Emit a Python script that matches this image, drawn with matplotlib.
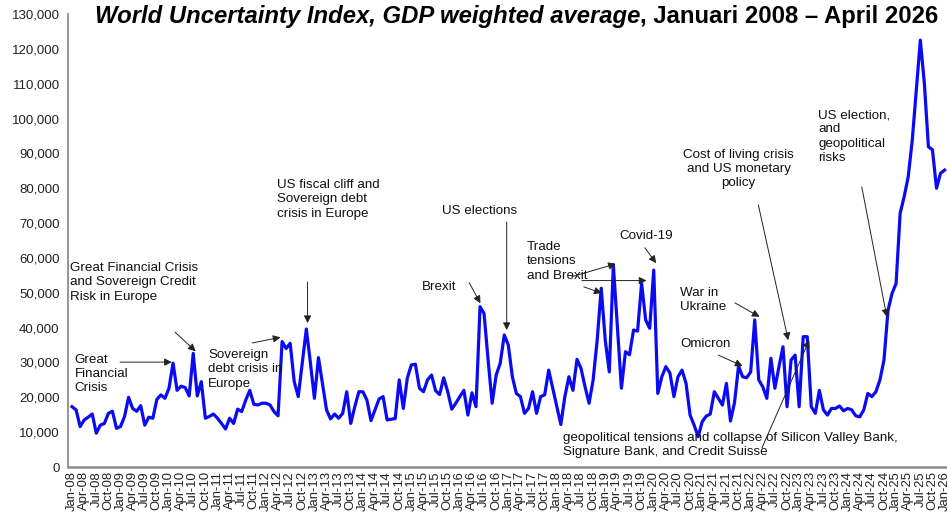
import numpy as np
import pandas as pd
import matplotlib
matplotlib.use("Agg")
import matplotlib.pyplot as plt
import matplotlib.ticker as mticker

# --- global style ---
plt.rcParams['font.family'] = ['Liberation Sans', 'DejaVu Sans']
plt.rcParams['axes.unicode_minus'] = False

LINE_COLOR = '#0b0bf2'
ANNOT_SIZE = 9.6
ARROW = dict(arrowstyle='-|>', color='#222222', lw=0.7, mutation_scale=11,
             shrinkA=0, shrinkB=0)

# --- data: World Uncertainty Index, GDP weighted average (thousands), monthly from Jan 2008 ---
wui_2008 = [17.3, 16.4, 11.6, 13.5, 14.3, 15.2, 9.7, 12.0, 12.5, 15.4, 16.0, 11.1]
wui_2009 = [11.6, 14.5, 20.0, 16.8, 16.0, 17.6, 12.0, 14.3, 14.0, 19.4, 20.7, 19.7]
wui_2010 = [22.6, 29.8, 22.0, 23.2, 22.8, 20.4, 32.6, 20.4, 24.5, 14.0, 14.5, 15.2]
wui_2011 = [14.0, 12.5, 10.9, 14.0, 12.5, 16.6, 15.9, 19.2, 22.0, 18.0, 17.8, 18.3]
wui_2012 = [18.3, 17.8, 15.9, 14.7, 36.0, 34.0, 35.5, 24.5, 20.2, 30.0, 39.6, 30.0]
wui_2013 = [19.7, 31.4, 24.0, 16.4, 13.8, 15.2, 14.0, 15.4, 21.6, 12.5, 17.3, 21.6]
wui_2014 = [21.6, 19.2, 13.3, 16.4, 19.5, 20.2, 13.5, 13.7, 13.9, 25.0, 16.8, 25.5]
wui_2015 = [29.3, 29.5, 22.6, 21.6, 25.0, 26.4, 21.9, 20.8, 25.6, 21.6, 16.6, 18.3]
wui_2016 = [20.2, 22.0, 14.9, 21.3, 17.3, 46.0, 44.0, 30.7, 18.3, 26.4, 29.8, 37.9]
wui_2017 = [35.0, 25.9, 21.1, 20.2, 15.4, 16.8, 21.6, 15.4, 20.2, 20.7, 27.8, 22.6]
wui_2018 = [17.3, 12.2, 20.2, 25.9, 22.0, 30.9, 28.3, 23.0, 18.3, 25.0, 36.4, 51.3]
wui_2019 = [36.4, 27.3, 58.0, 40.3, 22.6, 33.1, 32.2, 39.3, 39.0, 52.7, 42.2, 39.8]
wui_2020 = [56.5, 21.1, 25.9, 28.8, 27.0, 20.2, 25.9, 27.8, 24.0, 14.9, 12.0, 8.7]
wui_2021 = [13.0, 14.6, 15.2, 21.6, 19.7, 17.8, 24.0, 13.2, 18.5, 29.0, 25.9, 25.6]
wui_2022 = [27.3, 42.2, 25.0, 23.0, 19.7, 31.2, 22.6, 28.8, 34.5, 17.3, 30.7, 32.1]
wui_2023 = [17.3, 37.4, 37.4, 17.3, 15.4, 22.0, 16.4, 14.9, 16.8, 16.8, 17.5, 16.1]
wui_2024 = [16.8, 16.4, 14.7, 14.4, 16.4, 21.1, 20.2, 21.6, 25.0, 30.7, 45.0, 49.8]
wui_2025 = [52.7, 72.8, 77.6, 83.3, 93.8, 108.2, 122.5, 110.0, 91.9, 91.0, 80.0, 84.3]
wui_2026 = [85.2]

wui = np.array(wui_2008 + wui_2009 + wui_2010 + wui_2011 + wui_2012 + wui_2013 +
               wui_2014 + wui_2015 + wui_2016 + wui_2017 + wui_2018 + wui_2019 +
               wui_2020 + wui_2021 + wui_2022 + wui_2023 + wui_2024 + wui_2025 +
               wui_2026) * 1000

months = pd.date_range('2008-01-01', periods=len(wui), freq='MS')
tick_pos = list(range(0, len(wui), 3))
tick_labels = [months[i].strftime('%b-%y') for i in tick_pos]

y_ticks = list(range(0, 130001, 10000))

title_italic = "World Uncertainty Index, GDP weighted average"
title_rest = ", Januari 2008 \u2013 April 2026"

# --- figure ---
fig = plt.figure(figsize=(9.47, 5.24), dpi=100)
ax = fig.add_axes([68 / 947, 57 / 524, 879 / 947, 453 / 524])

x = np.arange(len(wui))
ax.plot(x, wui, color=LINE_COLOR, lw=2.3, solid_joinstyle='round', zorder=3)

ax.set_xlim(-1.0, 216.6)
ax.set_ylim(0, 130000)
ax.set_yticks(y_ticks)
ax.yaxis.set_major_formatter(mticker.FuncFormatter(lambda v, p: f"{v:,.0f}"))
ax.set_xticks(tick_pos)
ax.set_xticklabels(tick_labels, rotation=90)
ax.tick_params(axis='y', length=0, pad=6, labelsize=9.5, labelcolor='#222222')
ax.tick_params(axis='x', length=0, pad=3, labelsize=9.4, labelcolor='#222222')

for s in ['top', 'right']:
    ax.spines[s].set_visible(False)
ax.spines['left'].set_color('#8c8c8c')
ax.spines['left'].set_linewidth(1.3)
ax.spines['bottom'].set_color('#8c8c8c')
ax.spines['bottom'].set_linewidth(1.8)

# --- annotations ---
def label(xd, yd, s, ha='left', va='top'):
    ax.text(xd, yd, s, fontsize=ANNOT_SIZE, ha=ha, va=va, multialignment=ha,
            linespacing=1.25, color='#111111', zorder=4)

def arrow(tail, head):
    ax.annotate('', xy=head, xytext=tail, arrowprops=ARROW, zorder=5)

label(0.7, 32500, "Great\nFinancial\nCrisis")
arrow((11.9, 30100), (24.7, 30100))

label(-0.5, 58800, "Great Financial Crisis\nand Sovereign Credit\nRisk in Europe")
arrow((25.5, 38700), (30.6, 33200))

label(33.7, 33800, "Sovereign\ndebt crisis in\nEurope")
arrow((44.6, 35600), (51.6, 37200))

label(50.7, 82600, "US fiscal cliff and\nSovereign debt\ncrisis in Europe")
arrow((58.3, 53100), (58.3, 41300))

label(91.6, 73500, "US elections", va='center')
arrow((107.6, 70300), (107.6, 39300))

label(86.6, 51700, "Brexit", va='center')
arrow((98.3, 52900), (101.1, 47000))

label(112.6, 64800, "Trade\ntensions\nand Brexit")
arrow((123.7, 54600), (134.6, 58300))
arrow((126.2, 53500), (142.2, 53500))
arrow((126.7, 51700), (131.1, 49900))

label(135.6, 66300, "Covid-19", va='center')
arrow((141.8, 62900), (144.6, 58500))

label(150.5, 51600, "War in\nUkraine")
arrow((164.1, 47100), (170.2, 43100))

label(150.7, 35300, "Omicron", va='center')
arrow((160.0, 32100), (166.0, 29000))

label(165.0, 91300, "Cost of living crisis\nand US monetary\npolicy", ha='center')
arrow((169.9, 75200), (177.3, 36400))

label(184.7, 102700, "US election,\nand\ngeopolitical\nrisks")
arrow((195.5, 80400), (201.7, 43100))

label(121.5, 10100, "geopolitical tensions and collapse of Silicon Valley Bank,\n"
                    "Signature Bank, and Credit Suisse")
arrow((170.8, 5500), (182.5, 36400))

# --- title: italic part followed by upright part ---
renderer = fig.canvas.get_renderer()
t1 = fig.text(95 / 947, 1 - 17 / 524, title_italic, fontsize=17.2, fontweight='bold',
              fontstyle='italic', va='center', ha='left')
bb = t1.get_window_extent(renderer)
fig.text(bb.x1 / fig.bbox.width, 1 - 17 / 524, title_rest, fontsize=17.2,
         fontweight='bold', va='center', ha='left')

fig.savefig('out.png', dpi=100)
